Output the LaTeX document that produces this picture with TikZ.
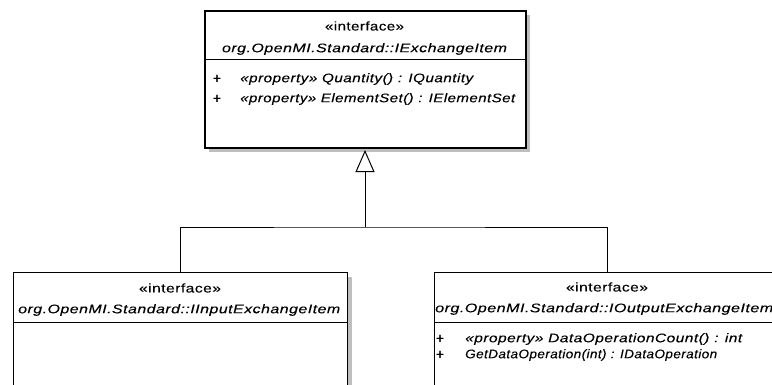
\documentclass[tikz,border=0pt]{standalone}
\usepackage{graphicx}
\usepackage{fontspec}
\setmainfont{Liberation Sans}[LetterSpace=3, FakeBold=0.15]
\usetikzlibrary{arrows.meta}
\newcommand\fitw[2]{\resizebox{#1pt}{\height}{#2}}
\definecolor{shadowc}{HTML}{BEBEBE}
\tikzset{
  txt/.style={inner sep=0pt, font=\fontsize{12.5}{14}\selectfont},
  itxt/.style={inner sep=0pt, font=\fontsize{12.5}{14}\selectfont\itshape},
  plus/.style={inner sep=0pt, font=\fontsize{14}{15}\selectfont},
  umlbox/.style={draw=black, fill=white, line width=1pt, inner sep=0pt, anchor=north west},
  thickbox/.style={umlbox, line width=2.2pt},
  sep/.style={line width=1pt},
  conn/.style={line width=1pt},
}
\begin{document}
\begin{tikzpicture}[x=1pt,y=-1pt]
\clip (0,0) rectangle (772,384);
\fill[white] (0,0) rectangle (772,384);
% shadows
\fill[shadowc] (209,15) rectangle (530,152);
\fill[shadowc] (18,277) rectangle (352,400);
\fill[shadowc] (439,277) rectangle (790,400);
% boxes
\node[thickbox, minimum width=321pt, minimum height=137pt] (top) at (204,10) {};
\node[umlbox, minimum width=334pt, minimum height=130pt] (left) at (13,272) {};
\node[umlbox, minimum width=346pt, minimum height=130pt] (right) at (434,272) {};
% separators
\draw[sep] (top.west |- 0,59) -- (top.east |- 0,59);
\draw[sep] (left.west |- 0,322) -- (left.east |- 0,322);
\draw[sep] (right.west |- 0,322) -- (right.east |- 0,322);
% top texts
\node[txt] (t1) at (364.5,26) {\fitw{79}{«interface»}};
\node[itxt] (t2) at (364.5,49) {\fitw{285}{org.OpenMI.Standard::IExchangeItem}};
\node[plus] (t3) at (217,79) {+};
\node[plus] (t4) at (217,99) {+};
\node[itxt, anchor=west] (t5) at (240,79) {\fitw{233}{«property» Quantity() : IQuantity}};
\node[itxt, anchor=west] (t6) at (240,99) {\fitw{275}{«property» ElementSet() : IElementSet}};
% left texts
\node[txt] (l1) at (180,288) {\fitw{82}{«interface»}};
\node[itxt, anchor=west] (l2) at (18,310) {\fitw{322}{org.OpenMI.Standard::IInputExchangeItem}};
% right texts
\node[txt] (r1) at (607,287) {\fitw{82}{«interface»}};
\node[itxt, anchor=west] (r2) at (435,309) {\fitw{338}{org.OpenMI.Standard::IOutputExchangeItem}};
\node[plus] (r3) at (440,339) {+};
\node[plus] (r4) at (440,355) {+};
\node[itxt, anchor=west] (r5) at (465,339) {\fitw{277}{«property» DataOperationCount() : int}};
\node[itxt, anchor=west] (r6) at (465,355) {\fitw{252}{GetDataOperation(int) : IDataOperation}};
% connectors
\coordinate (j) at (365,227);
\coordinate (tip) at (365,150);
\draw[conn] (left.north) |- (j) -| (right.north);
\draw[conn, -{Triangle[open, width=19pt, length=22pt]}] (j) -- (tip);
\end{tikzpicture}
\end{document}
